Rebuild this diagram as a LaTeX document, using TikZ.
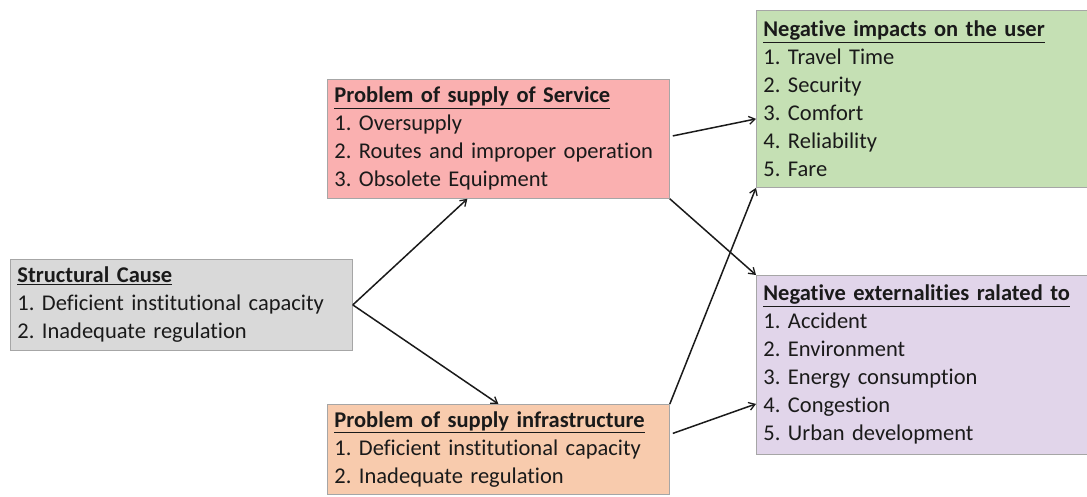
\documentclass[tikz,border=0pt]{standalone}
\usepackage{fontspec}
\setmainfont{Carlito}[Ligatures={NoCommon}]
\usetikzlibrary{arrows.meta,calc}
\frenchspacing
\definecolor{causefill}{HTML}{D9D9D9}
\definecolor{svcfill}{HTML}{FAB0B0}
\definecolor{infrafill}{HTML}{F8CBAD}
\definecolor{userfill}{HTML}{C5E0B4}
\definecolor{extfill}{HTML}{E1D5EA}
\definecolor{edgegray}{HTML}{A6A6A6}
\definecolor{ink}{HTML}{1A1A1A}
\tikzset{
  box/.style={draw=edgegray, line width=0.8pt, anchor=north west,
    inner xsep=7pt, inner ysep=3pt, align=left, text=ink,
    font=\fontsize{22.5}{28}\selectfont\frenchspacing},
  link/.style={line width=1.5pt, ink, -{Straight Barb[length=6pt,width=8pt,line width=1.3pt]}}
}
\newcommand{\boxtitle}[1]{\underline{\textbf{#1}}}
\begin{document}
\begin{tikzpicture}[x=1pt,y=-1pt]
\useasboundingbox (0,0) rectangle (1087,496);

\node[box, fill=causefill, minimum width=342pt, minimum height=91pt, text width=328pt] (cause) at (10,259)
  {\boxtitle{Structural Cause}\\1. Deficient institutional capacity\\2. Inadequate regulation};

\node[box, fill=svcfill, minimum width=342pt, minimum height=119pt, text width=328pt] (svc) at (327,79)
  {\boxtitle{Problem of supply of Service}\\1. Oversupply\\2. Routes and improper operation\\3. Obsolete Equipment};

\node[box, fill=infrafill, minimum width=342pt, minimum height=90pt, text width=328pt] (infra) at (327,404)
  {\boxtitle{Problem of supply infrastructure}\\1. Deficient institutional capacity\\2. Inadequate regulation};

\node[box, fill=userfill, minimum width=332pt, minimum height=177pt, text width=318pt] (user) at (756,10)
  {\boxtitle{Negative impacts on the user}\\1. Travel Time\\2. Security\\3. Comfort\\4. Reliability\\5. Fare};

\node[box, fill=extfill, minimum width=332pt, minimum height=179pt, text width=318pt] (ext) at (756,275)
  {\boxtitle{Negative externalities ralated to}\\1. Accident\\2. Environment\\3. Energy consumption\\4. Congestion\\5. Urban development};

% connectors
\draw[link] (cause.east) -- ([xshift=-31pt]svc.south);
\draw[link] (cause.east) -- (infra.north);
\draw[link] ([xshift=3pt,yshift=3pt]svc.east) -- ([yshift=-20pt]user.west);
\draw[link] (svc.south east) -- (ext.north west);
\draw[link] (infra.north east) -- (user.south west);
\draw[link] ([xshift=3pt,yshift=16pt]infra.east) -- ([yshift=-39pt]ext.west);
\end{tikzpicture}
\end{document}
